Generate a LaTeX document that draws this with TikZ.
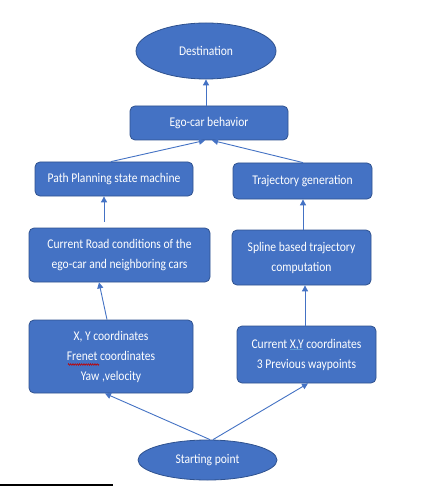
\documentclass[tikz,border=0pt]{standalone}
\usepackage{fontspec}
\setmainfont[FakeStretch=0.87]{Carlito}
\usetikzlibrary{arrows.meta,calc,shapes.geometric,decorations.pathmorphing}
\definecolor{ofblue}{HTML}{4472C4}
\definecolor{ofedge}{HTML}{2F528F}
\definecolor{baseline}{HTML}{44546A}
\definecolor{spellred}{HTML}{C00000}
\definecolor{spellblue}{HTML}{5B9BD5}
\tikzset{
  box/.style={draw=ofedge, fill=ofblue, line width=0.8pt, rounded corners=5pt,
    text=white, font=\fontsize{13.3}{20}\selectfont, align=center, inner sep=0pt},
  oval/.style={ellipse, draw=ofedge, fill=ofblue, line width=0.8pt,
    text=white, font=\fontsize{13.3}{20}\selectfont, inner sep=0pt},
  conn/.style={draw=ofblue, line width=0.9pt, -{Triangle[length=6pt,width=6pt]}}
}
\begin{document}
\begin{tikzpicture}[x=1pt,y=-1pt]
\useasboundingbox (0,0) rectangle (442,486);
\fill[white] (0,0) rectangle (442,486);
\node[oval, minimum width=140pt, minimum height=56pt] (dest) at (206,51) {Destination};
\node[box, minimum width=158pt, minimum height=34pt] (ego) at (209,123) {Ego-car behavior};
\node[box, minimum width=158pt, minimum height=34pt] (pp) at (114,179) {Path Planning state machine};
\node[box, minimum width=139pt, minimum height=36pt] (tg) at (302.5,181) {Trajectory generation};
\node[box, minimum width=181pt, minimum height=54pt] (cr) at (119.5,255) {Current Road conditions of the\\ego-car and neighboring cars};
\node[box, minimum width=139pt, minimum height=55pt] (spl) at (301.5,257.5) {Spline based trajectory\\computation};
\node[box, minimum width=164pt, minimum height=73pt] (xy) at (111,356.5) {X, Y coordinates\\Frenet coordinates\\Yaw ,velocity};
\node[box, minimum width=139pt, minimum height=57pt] (cxy) at (306.5,354.5) {Current X,Y coordinates\\3 Previous waypoints};
\node[oval, minimum width=139pt, minimum height=40pt] (start) at (207.5,460) {Starting point};

\draw[conn] (ego.north -| dest.south) -- (dest.south);
\draw[conn] ($(pp.north)+(-3,0)$) -- ($(ego.south)+(-4,0)$);
\draw[conn] ($(tg.north)+(0.5,0)$) -- ($(ego.south)+(3,0)$);
\draw[conn] ($(cr.north)+(-15.5,-6)$) -- ($(pp.south)+(-10,0)$);
\draw[conn] ($(spl.north)+(1.5,0)$) -- ($(tg.south)+(0.5,0)$);
\draw[conn] ($(xy.north)+(-4,0)$) -- ($(cr.south)+(-20.5,0)$);
\draw[conn] ($(cxy.north)+(-1.5,0)$) -- ($(spl.south)+(3.5,0)$);
\draw[conn] ($(start.north)+(2.5,0)$) -- ($(xy.south)+(-6,0)$);
\draw[conn] ($(start.north)+(5.5,0)$) -- ($(cxy.south)+(1.5,0)$);

% spell-check marks
\coordinate (w1) at (68,364.5);
\coordinate (w2) at (99,364.5);
\draw[spellred, line width=0.6pt, decorate, decoration={zigzag, amplitude=0.8pt, segment length=2.2pt}] (w1) -- (w2);
\coordinate (u1) at (290,349);
\coordinate (u2) at (303,349);
\draw[spellblue, line width=0.6pt] (u1) -- (u2);

\coordinate (b1) at (0,485);
\coordinate (b2) at (113,485);
\draw[baseline, line width=1.2pt] (b1) -- (b2);
\end{tikzpicture}
\end{document}
